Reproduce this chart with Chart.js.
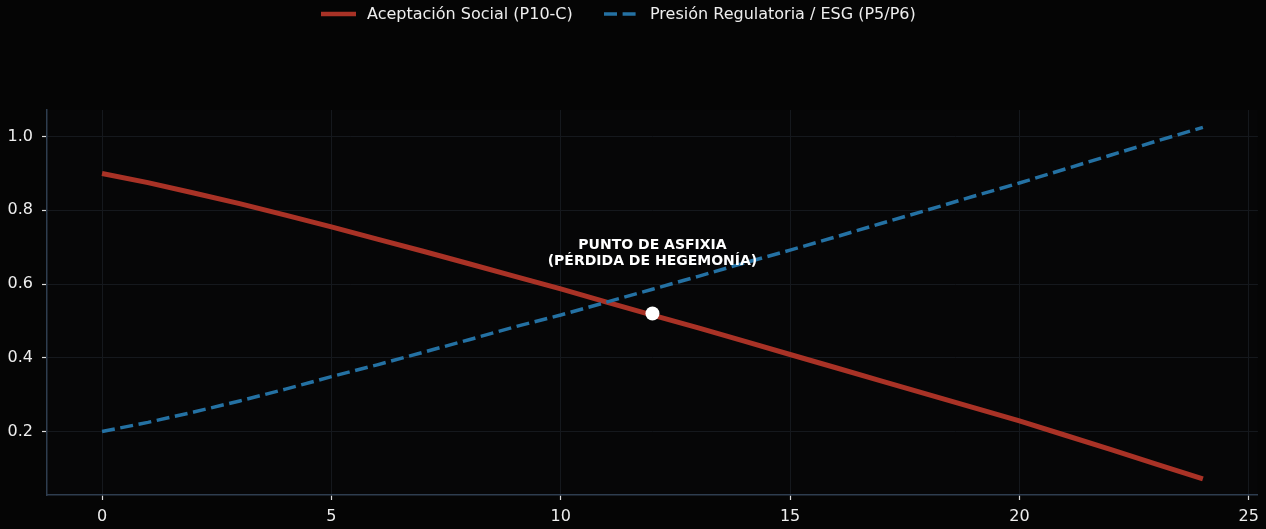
<!DOCTYPE html>
<html lang="es">
<head>
    <meta charset="UTF-8">
    <title>Punto de asfixia</title>
    <script src="https://cdn.jsdelivr.net/npm/chart.js@4"></script>
    <style>
        html, body { margin: 0; padding: 0; background: #050505; }
        .wrap { width: 1266px; height: 529px; }
    </style>
</head>
<body>
    <div class="wrap"><canvas id="chart" width="1266" height="529"></canvas></div>

    <script>
        // valores
        const periods = [0, 1, 2, 3, 4, 5, 6, 7, 8, 9, 10, 11, 12, 13, 14, 15, 16, 17, 18, 19, 20, 21, 22, 23, 24];
        const socialAcceptance = [0.900, 0.875, 0.847, 0.818, 0.787, 0.755, 0.722, 0.689, 0.655, 0.621, 0.587, 0.551,
            0.516, 0.481, 0.445, 0.409, 0.373, 0.337, 0.301, 0.265, 0.229, 0.190, 0.151, 0.111, 0.072];
        const regulatoryPressure = [0.200, 0.225, 0.253, 0.283, 0.315, 0.349, 0.381, 0.415, 0.449, 0.484, 0.516, 0.551,
            0.586, 0.621, 0.657, 0.692, 0.728, 0.765, 0.801, 0.838, 0.874, 0.912, 0.950, 0.988, 1.025];
        const chokePoint = { x: 12, y: 0.52 };
        const chokeLabel = ["PUNTO DE ASFIXIA", "(PÉRDIDA DE HEGEMONÍA)"];
        const xTicks = [0, 5, 10, 15, 20, 25];
        const yTicks = [0.2, 0.4, 0.6, 0.8, 1.0];

        const FONT = "'DejaVu Sans', sans-serif";
        const toPoints = (ys) => periods.map((x, i) => ({ x: x, y: ys[i] }));

        const backgroundPlugin = {
            id: 'bg',
            beforeDraw(chart) {
                const ctx = chart.ctx;
                ctx.save();
                ctx.fillStyle = '#050505';
                ctx.fillRect(0, 0, chart.width, chart.height);
                const a = chart.chartArea;
                ctx.fillStyle = '#060607';
                ctx.fillRect(a.left, a.top, a.right - a.left, a.bottom - a.top);
                ctx.restore();
            }
        };

        // legend drawn by hand so the dashed sample looks right
        const legendPlugin = {
            id: 'topLegend',
            afterDraw(chart) {
                const ctx = chart.ctx;
                const items = [
                    { ds: chart.data.datasets[0], x: 321 },
                    { ds: chart.data.datasets[1], x: 604 }
                ];
                const y = 14;
                ctx.save();
                ctx.font = "16px " + FONT;
                ctx.textBaseline = 'middle';
                ctx.textAlign = 'left';
                items.forEach(it => {
                    ctx.strokeStyle = it.ds.borderColor;
                    ctx.lineWidth = it.ds.borderDash ? 3.5 : 4.5;
                    ctx.setLineDash(it.ds.borderDash || []);
                    ctx.beginPath();
                    ctx.moveTo(it.x, y);
                    ctx.lineTo(it.x + 35, y);
                    ctx.stroke();
                    ctx.setLineDash([]);
                    ctx.fillStyle = '#eeeeee';
                    ctx.fillText(it.ds.label, it.x + 46, y + 1);
                });
                ctx.restore();
            }
        };

        const annotationPlugin = {
            id: 'chokeText',
            afterDatasetsDraw(chart) {
                const ctx = chart.ctx;
                const x = chart.scales.x.getPixelForValue(chokePoint.x);
                const y1 = chart.scales.y.getPixelForValue(0.705);
                const y2 = chart.scales.y.getPixelForValue(0.662);
                ctx.save();
                ctx.font = "bold 14px " + FONT;
                ctx.fillStyle = '#ffffff';
                ctx.textAlign = 'center';
                ctx.textBaseline = 'middle';
                ctx.fillText(chokeLabel[0], x, y1);
                ctx.fillText(chokeLabel[1], x, y2);
                ctx.restore();
            }
        };

        new Chart(document.getElementById('chart'), {
            type: 'line',
            data: {
                datasets: [
                    {
                        label: 'Aceptación Social (P10-C)',
                        data: toPoints(socialAcceptance),
                        borderColor: '#a93226',
                        backgroundColor: '#a93226',
                        borderWidth: 5,
                        pointRadius: 0,
                        tension: 0,
                        order: 2
                    },
                    {
                        label: 'Presión Regulatoria / ESG (P5/P6)',
                        data: toPoints(regulatoryPressure),
                        borderColor: '#2471a3',
                        backgroundColor: '#2471a3',
                        borderWidth: 3.5,
                        borderDash: [13, 5.6],
                        pointRadius: 0,
                        tension: 0,
                        order: 1
                    },
                    {
                        label: 'punto',
                        data: [chokePoint],
                        showLine: false,
                        pointRadius: 7,
                        pointBackgroundColor: '#ffffff',
                        pointBorderColor: '#ffffff',
                        pointBorderWidth: 0,
                        order: 0
                    }
                ]
            },
            options: {
                responsive: false,
                animation: false,
                layout: { padding: { left: 0, right: 8, top: 110, bottom: 0 } },
                plugins: {
                    tooltip: { enabled: false },
                    legend: { display: false }
                },
                scales: {
                    x: {
                        type: 'linear',
                        min: -1.2,
                        max: 25.2,
                        afterBuildTicks: (s) => { s.ticks = xTicks.map(v => ({ value: v })); },
                        afterFit: (s) => { s.height = 34; },
                        ticks: {
                            color: '#eeeeee',
                            font: { family: FONT, size: 16 },
                            padding: 7
                        },
                        grid: {
                            color: '#15181d',
                            lineWidth: 1,
                            tickLength: 5,
                            tickColor: '#dddddd',
                            tickWidth: 1.2
                        },
                        border: { color: '#2e3d4f', width: 1.5 }
                    },
                    y: {
                        type: 'linear',
                        min: 0.028,
                        max: 1.072,
                        afterBuildTicks: (s) => { s.ticks = yTicks.map(v => ({ value: v })); },
                        afterFit: (s) => { s.width = 47; },
                        ticks: {
                            color: '#eeeeee',
                            font: { family: FONT, size: 16 },
                            padding: 9,
                            callback: (v) => v.toFixed(1)
                        },
                        grid: {
                            color: '#15181d',
                            lineWidth: 1,
                            tickLength: 5,
                            tickColor: '#dddddd',
                            tickWidth: 1.2
                        },
                        border: { color: '#2e3d4f', width: 1.5 }
                    }
                }
            },
            plugins: [backgroundPlugin, annotationPlugin, legendPlugin]
        });
    </script>
</body>
</html>
